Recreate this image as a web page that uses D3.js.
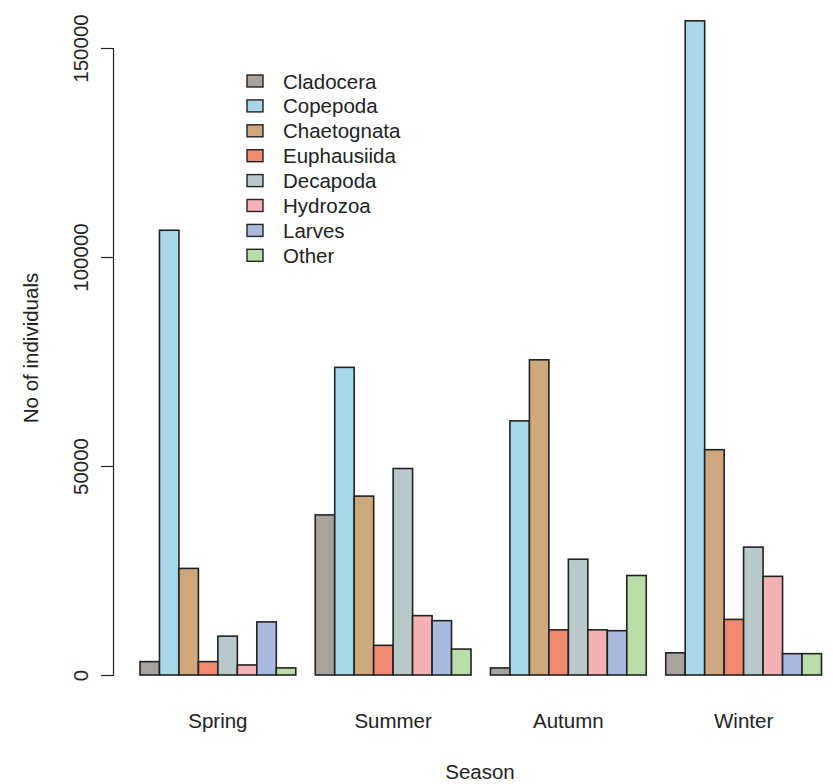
<!DOCTYPE html>
<html>
<head>
<meta charset="utf-8">
<script src="https://cdn.jsdelivr.net/npm/d3@7"></script>
<style>
  body { margin: 0; background: #fff; }
  svg text { font-family: "Liberation Sans", Arial, sans-serif; fill: #222; }
</style>
</head>
<body>
<svg id="chart" width="833" height="784"></svg>
<script>
// data
var seasons = ["Spring", "Summer", "Autumn", "Winter"];
var taxa = ["Cladocera", "Copepoda", "Chaetognata", "Euphausiida", "Decapoda", "Hydrozoa", "Larves", "Other"];
var colors = ["#a8a29f", "#a8d8e8", "#cda87c", "#ef8a70", "#b9c8c8", "#f4b2b5", "#a9bade", "#badca9"];
var spring = [3200, 106400, 25500, 3200, 9300, 2400, 12700, 1700];
var summer = [38300, 73600, 42800, 7100, 49400, 14200, 13000, 6200];
var autumn = [1700, 60800, 75400, 10800, 27700, 10800, 10600, 23800];
var winter = [5300, 156500, 53900, 13300, 30600, 23600, 5100, 5100];
var yTicks = [0, 50000, 100000, 150000];

var values = [spring, summer, autumn, winter];

var svg = d3.select("#chart");
var fs = "20.5px";

// scales
var y = d3.scaleLinear().domain([0, 150000]).range([675, 48]);
var x0 = d3.scaleBand().domain(seasons).range([140, 821.5]).paddingInner(1 / 9).paddingOuter(0);
var x1 = d3.scaleBand().domain(taxa).range([0, x0.bandwidth()]);
var color = d3.scaleOrdinal().domain(taxa).range(colors);

// bars
var groups = svg.append("g").selectAll("g").data(seasons)
    .enter().append("g")
    .attr("transform", function (s) { return "translate(" + x0(s) + ",0)"; });

groups.selectAll("rect")
    .data(function (s, i) { return taxa.map(function (t, j) { return {taxon: t, v: values[i][j]}; }); })
    .enter().append("rect")
    .attr("x", function (d) { return x1(d.taxon); })
    .attr("width", x1.bandwidth())
    .attr("y", function (d) { return y(d.v); })
    .attr("height", function (d) { return y(0) - y(d.v); })
    .attr("fill", function (d) { return color(d.taxon); })
    .attr("stroke", "#222")
    .attr("stroke-width", 1.6);

// y axis (R style, rotated labels)
var yAxis = svg.append("g").attr("transform", "translate(113,0)")
    .call(d3.axisLeft(y).tickValues(yTicks).tickSize(12).tickFormat(d3.format("d")));
yAxis.select(".domain").attr("stroke", "#222").attr("stroke-width", 1.2);
yAxis.selectAll(".tick line").attr("stroke", "#222").attr("stroke-width", 1.2);
yAxis.selectAll(".tick text")
    .attr("x", 0).attr("dy", 0)
    .attr("transform", "translate(-25,0) rotate(-90)")
    .attr("text-anchor", "middle")
    .style("font-size", fs)
    .style("fill", "#222");

// season labels
svg.append("g").selectAll("text").data(seasons)
    .enter().append("text")
    .attr("x", function (s) { return x0(s) + x0.bandwidth() / 2; })
    .attr("y", 728)
    .attr("text-anchor", "middle")
    .style("font-size", fs)
    .text(function (s) { return s; });

// axis titles
svg.append("text").attr("x", 480).attr("y", 779).attr("text-anchor", "middle")
    .style("font-size", fs).text("Season");
svg.append("text").attr("transform", "translate(38,348) rotate(-90)").attr("text-anchor", "middle")
    .style("font-size", fs).text("No of individuals");

// legend
var legend = svg.append("g").selectAll("g").data(taxa)
    .enter().append("g")
    .attr("transform", function (t, i) { return "translate(247," + (81 + i * 24.9) + ")"; });
legend.append("rect")
    .attr("x", 0).attr("y", -6).attr("width", 16).attr("height", 12)
    .attr("fill", function (t) { return color(t); })
    .attr("stroke", "#222").attr("stroke-width", 1.4);
legend.append("text")
    .attr("x", 36).attr("y", 7.5)
    .style("font-size", fs)
    .text(function (t) { return t; });
</script>
</body>
</html>
